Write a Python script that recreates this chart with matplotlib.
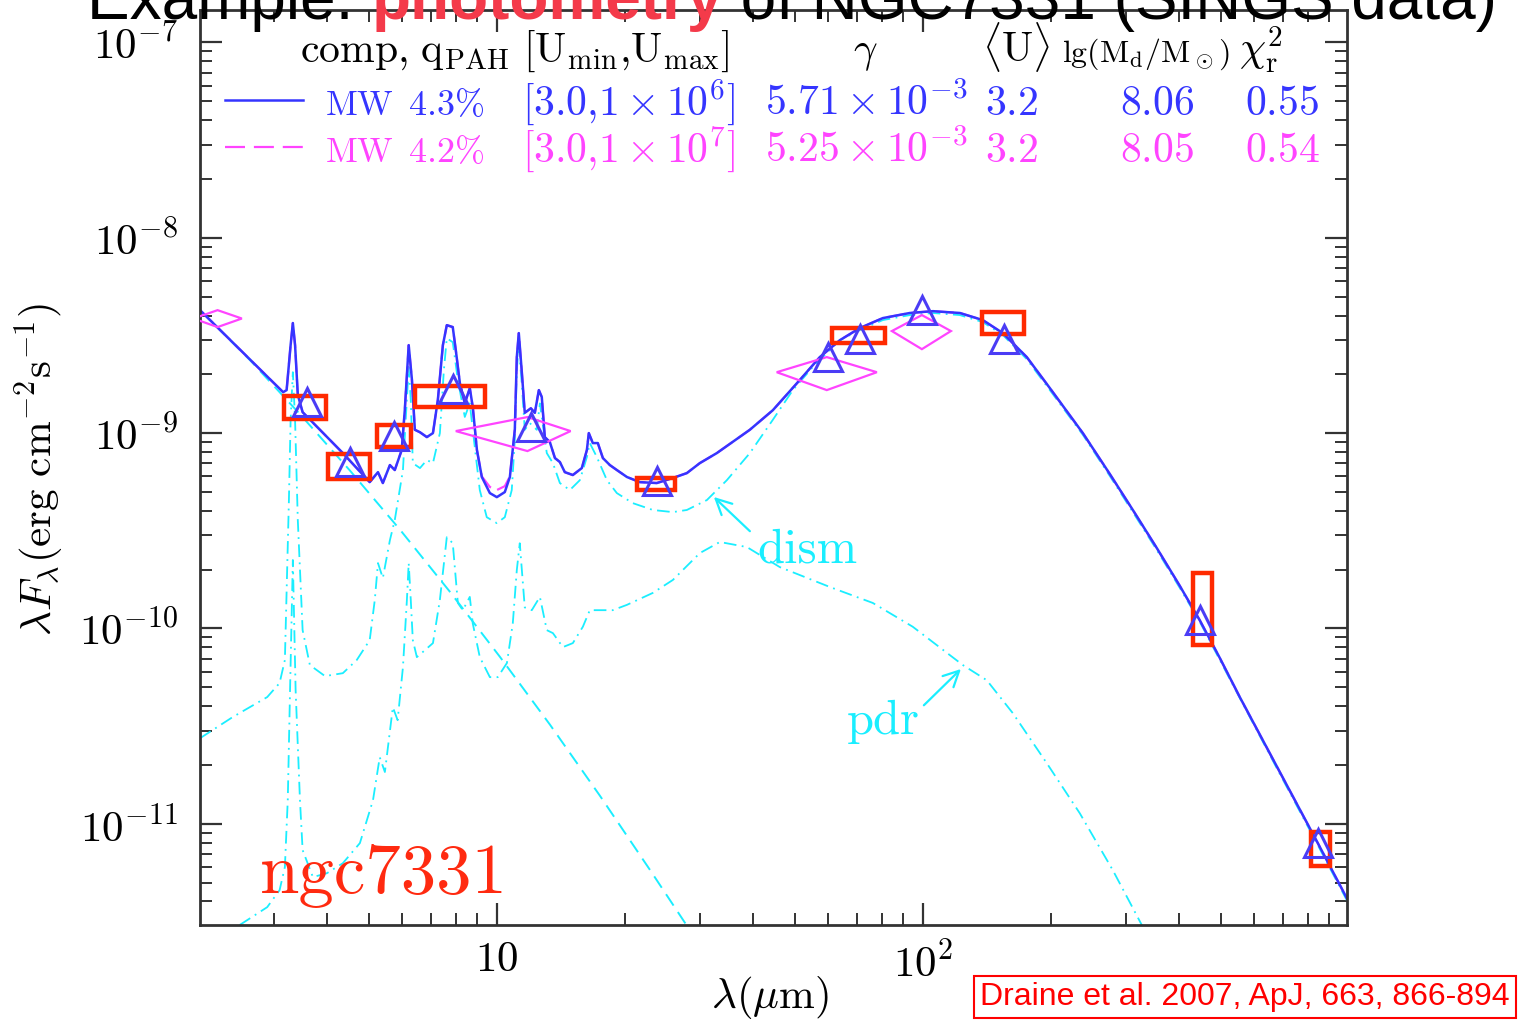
import matplotlib
matplotlib.use('Agg')
import matplotlib.pyplot as plt
import numpy as np
from matplotlib.patches import Rectangle, Polygon
from matplotlib.ticker import NullFormatter

plt.rcParams['font.family'] = ['cmr10', 'DejaVu Serif']
plt.rcParams['mathtext.fontset'] = 'cm'
plt.rcParams['axes.unicode_minus'] = False

UNIT = 1e-9  # fluxes below are in units of 1e-9 erg cm^-2 s^-1

# total model, MW 4.3% (blue)
lam_model = [2.01, 3.15, 3.21, 3.28, 3.32, 3.36, 3.41, 3.50, 4.35, 5.03, 5.26, 5.40, 5.61, 5.76,
             5.98, 6.08, 6.21, 6.32, 6.42, 6.60, 6.85, 7.08, 7.27, 7.47, 7.63, 7.88, 8.01, 8.19,
             8.41, 8.64, 8.78, 8.98, 9.22, 9.63, 10.0, 10.44, 10.73, 11.02, 11.14, 11.26, 11.45,
             11.63, 12.02, 12.28, 12.55, 12.75, 12.96, 13.32, 13.69, 14.06, 14.44, 15.08, 15.83,
             16.27, 16.44, 16.80, 17.26, 17.74, 18.42, 19.13, 20.20, 21.66, 23.74, 25.89, 27.93,
             29.96, 32.84, 39.26, 44.46, 51.43, 57.31, 63.86, 71.14, 80.56, 93.2, 105.6, 122.2,
             138.3, 154.1, 175.4, 198.7, 237.5, 274.8, 311.2, 354.2, 401.2, 446.9, 498.1, 554.8,
             688.7, 845.7, 989.2]
flux_model1 = [4.26, 1.62, 1.66, 2.82, 3.66, 2.82, 1.57, 1.28, 0.790, 0.561, 0.631, 0.555, 0.686,
               0.647, 0.819, 1.31, 2.82, 1.87, 1.04, 1.01, 0.954, 1.00, 1.48, 2.82, 3.57, 3.49,
               2.66, 1.80, 1.42, 1.70, 1.36, 0.819, 0.596, 0.493, 0.470, 0.499, 0.596, 1.04, 2.45,
               3.25, 2.03, 1.27, 1.34, 1.27, 1.66, 1.53, 0.954, 0.899, 0.745, 0.711, 0.631, 0.610,
               0.662, 0.819, 1.00, 0.889, 0.889, 0.745, 0.686, 0.647, 0.596, 0.561, 0.555, 0.589,
               0.624, 0.702, 0.790, 1.04, 1.31, 1.87, 2.45, 2.99, 3.45, 3.88, 4.12, 4.21, 4.12,
               3.79, 3.25, 2.45, 1.70, 1.00, 0.617, 0.404, 0.258, 0.165, 0.110, 0.0705, 0.0445,
               0.0184, 0.00796, 0.00416]
# total model, MW 4.2% (magenta dashed)
flux_model2 = [4.26, 1.62, 1.66, 2.82, 3.66, 2.82, 1.57, 1.28, 0.790, 0.561, 0.631, 0.555, 0.686,
               0.647, 0.819, 1.31, 2.82, 1.87, 1.04, 1.01, 0.954, 1.00, 1.48, 2.82, 3.57, 3.49,
               2.66, 1.80, 1.42, 1.70, 1.36, 0.819, 0.60, 0.530, 0.511, 0.535, 0.60, 1.04, 2.45,
               3.25, 2.03, 1.27, 1.34, 1.27, 1.66, 1.53, 0.954, 0.899, 0.745, 0.711, 0.631, 0.610,
               0.662, 0.819, 1.00, 0.889, 0.889, 0.745, 0.686, 0.647, 0.596, 0.561, 0.555, 0.589,
               0.624, 0.702, 0.790, 1.04, 1.31, 1.87, 2.45, 2.99, 3.45, 3.88, 4.12, 4.21, 4.12,
               3.79, 3.25, 2.45, 1.70, 1.00, 0.617, 0.404, 0.258, 0.165, 0.110, 0.0705, 0.0445,
               0.0184, 0.00796, 0.00416]

# starlight
lam_stars = [2.01, 2.63, 3.45, 4.52, 5.92, 7.76, 10.16, 13.32, 17.45, 22.86, 28.70]
flux_stars = [4.26, 2.37, 1.25, 0.643, 0.321, 0.154, 0.0717, 0.0322, 0.01393, 0.00582, 0.00275]

# diffuse ISM dust
lam_dism = [2.01, 2.40, 2.89, 3.09, 3.18, 3.25, 3.28, 3.32, 3.36, 3.41, 3.50, 3.64, 3.95, 4.35,
            4.69, 5.03, 5.17, 5.26, 5.40, 5.61, 5.76, 6.02, 6.11, 6.21, 6.28, 6.35, 6.60, 6.85,
            7.08, 7.35, 7.51, 7.63, 7.88, 8.10, 8.41, 8.64, 8.78, 9.12, 9.47, 10.0, 10.44, 10.84,
            11.02, 11.14, 11.26, 11.45, 11.63, 11.95, 12.41, 12.62, 13.10, 13.54, 14.06, 14.84,
            15.66, 16.27, 16.53, 17.17, 18.13, 19.13, 20.85, 23.24, 25.89, 27.93, 31.12, 34.67,
            39.26, 44.46, 49.53, 55.19, 59.51, 63.86, 71.14, 80.56, 93.2, 105.6, 122.2, 138.3,
            154.1, 175.4, 198.7, 237.5, 274.8, 311.2, 354.2, 401.2, 446.9, 554.8, 688.7, 845.7,
            989.2]
flux_dism = [0.0274, 0.0352, 0.0445, 0.0525, 0.0689, 0.454, 1.166, 2.05, 1.166, 0.359, 0.098,
             0.0649, 0.0570, 0.0590, 0.0689, 0.0871, 0.140, 0.216, 0.181, 0.283, 0.359, 0.647,
             1.166, 2.18, 1.48, 0.702, 0.662, 0.728, 0.702, 1.00, 2.10, 3.06, 2.92, 1.87, 1.21,
             1.42, 1.04, 0.511, 0.371, 0.346, 0.371, 0.511, 0.921, 2.10, 2.82, 1.76, 1.04, 1.125,
             1.04, 1.42, 0.790, 0.702, 0.555, 0.511, 0.574, 0.754, 0.889, 0.754, 0.574, 0.493,
             0.438, 0.404, 0.394, 0.404, 0.454, 0.574, 0.790, 1.17, 1.66, 2.18, 2.57, 2.99, 3.37,
             3.79, 4.02, 4.12, 4.02, 3.70, 3.18, 2.39, 1.66, 0.98, 0.603, 0.394, 0.252, 0.161,
             0.108, 0.0440, 0.0180, 0.00777, 0.00406]

# PDR dust
lam_pdr = [2.49, 2.89, 3.09, 3.18, 3.23, 3.27, 3.32, 3.37, 3.45, 3.50, 3.70, 3.99, 4.35, 4.77,
           5.12, 5.31, 5.46, 5.70, 5.85, 6.02, 6.15, 6.21, 6.28, 6.35, 6.49, 6.78, 7.08, 7.35,
           7.63, 7.88, 8.10, 8.32, 8.64, 8.78, 9.12, 9.63, 10.05, 10.56, 10.90, 11.14, 11.32,
           11.63, 12.08, 12.62, 13.10, 13.54, 14.29, 15.08, 15.92, 16.53, 17.45, 18.72, 20.20,
           23.24, 25.89, 29.96, 33.38, 38.63, 46.17, 60.49, 76.32, 94.7, 124.2, 141.3, 162.7,
           195.5, 233.7, 279.3, 328.5]
flux_pdr = [0.00303, 0.00374, 0.00457, 0.00600, 0.0132, 0.0483, 0.224, 0.0483, 0.0132, 0.00733,
            0.00533, 0.00558, 0.00628, 0.00796, 0.0132, 0.0219, 0.0184, 0.0395, 0.0339, 0.0634,
            0.140, 0.216, 0.140, 0.0871, 0.0713, 0.0774, 0.0841, 0.140, 0.293, 0.273, 0.135,
            0.124, 0.145, 0.106, 0.0713, 0.0563, 0.0563, 0.0665, 0.106, 0.199, 0.273, 0.128,
            0.124, 0.145, 0.098, 0.0946, 0.0802, 0.0841, 0.102, 0.124, 0.124, 0.124, 0.132,
            0.152, 0.177, 0.243, 0.277, 0.261, 0.206, 0.163, 0.135, 0.102, 0.0649, 0.0543,
            0.0368, 0.0204, 0.0113, 0.00578, 0.00296]

# observed photometry (band width x flux range)
band_lo = [3.16, 4.01, 5.23, 6.42, 21.3, 61.2, 137.6, 430, 814]
band_hi = [3.97, 5.03, 6.28, 9.37, 26.2, 81.4, 172.7, 477, 902]
obs_lo = [1.18, 0.581, 0.848, 1.358, 0.510, 2.89, 3.21, 0.0821, 0.00607]
obs_hi = [1.545, 0.781, 1.099, 1.74, 0.588, 3.45, 4.165, 0.192, 0.00906]

# band-averaged model
lam_band = [3.58, 4.52, 5.73, 7.88, 12.02, 23.74, 59.8, 71.1, 99.5, 155, 447, 846]
flux_band = [1.45, 0.715, 0.971, 1.69, 1.073, 0.568, 2.46, 3.05, 4.26, 3.05, 0.110, 0.00795]

# 2MASS / IRAS points
dia_lam = [2.21, 11.8, 59.5, 99.5]
dia_lam_lo = [1.94, 8.01, 45.4, 84.6]
dia_lam_hi = [2.52, 14.9, 78.0, 116.4]
dia_f = [3.86, 1.024, 2.05, 3.33]
dia_f_lo = [3.49, 0.809, 1.66, 2.69]
dia_f_hi = [4.26, 1.208, 2.45, 4.02]

BLUE = '#3535ff'
MAG = '#ff44ff'
CYAN = '#1aeeff'
RED = '#ff2a00'
TRI = '#4b3cf5'

fig = plt.figure(figsize=(15.28, 10.21), dpi=100)
ax = fig.add_axes([0.1309, 0.0940, 0.7506, 0.8962])
ax.set_xscale('log')
ax.set_yscale('log')

dashdot = (0, (7, 3, 1, 3))
ax.plot(lam_stars, np.array(flux_stars) * UNIT, color=CYAN, lw=1.4, ls=(0, (7, 4)))
ax.plot(lam_dism, np.array(flux_dism) * UNIT, color=CYAN, lw=1.3, ls=dashdot)
ax.plot(lam_pdr, np.array(flux_pdr) * UNIT, color=CYAN, lw=1.3, ls=dashdot)
ax.plot(lam_model, np.array(flux_model2) * UNIT, color=MAG, lw=1.6, ls=(0, (8, 3)))
ax.plot(lam_model, np.array(flux_model1) * UNIT, color=BLUE, lw=1.8)

for lo, hi, flo, fhi in zip(band_lo, band_hi, obs_lo, obs_hi):
    ax.add_patch(Rectangle((lo, flo * UNIT), hi - lo, (fhi - flo) * UNIT,
                           fill=False, ec=RED, lw=3.2, zorder=5))

for c, lo, hi, f, flo, fhi in zip(dia_lam, dia_lam_lo, dia_lam_hi, dia_f, dia_f_lo, dia_f_hi):
    ax.add_patch(Polygon([(lo, f * UNIT), (c, fhi * UNIT), (hi, f * UNIT), (c, flo * UNIT)],
                         closed=True, fill=False, ec=MAG, lw=1.6, zorder=6))

ax.plot(lam_band, np.array(flux_band) * UNIT, ls='none', marker='^', ms=20,
        mfc='none', mec=TRI, mew=2.2, zorder=7)

ax.set_xlim(2.01, 990)
ax.set_ylim(3.03e-12, 1.466e-7)

ax.set_xticks([10, 100])
ax.set_xticklabels([r'$10$', r'$10^2$'])
ax.set_yticks([1e-11, 1e-10, 1e-9, 1e-8, 1e-7])
ax.set_yticklabels([r'$10^{-11}$', r'$10^{-10}$', r'$10^{-9}$', r'$10^{-8}$', r'$10^{-7}$'])
ax.xaxis.set_minor_formatter(NullFormatter())
ax.yaxis.set_minor_formatter(NullFormatter())
ax.tick_params(which='both', direction='in', top=True, right=True, color='#333333')
ax.tick_params(which='major', length=16, width=1.6, labelsize=31)
ax.tick_params(axis='x', which='major', pad=12)
ax.tick_params(axis='y', which='major', pad=16)
ax.tick_params(which='minor', length=8.5, width=1.4)
for sp in ax.spines.values():
    sp.set_linewidth(2)
    sp.set_color('#333333')

# legend block
ax.plot([0.0218, 0.0898], [0.9016, 0.9016], transform=ax.transAxes, color=BLUE, lw=1.8)
ax.plot([0.0218, 0.0898], [0.8503, 0.8503], transform=ax.transAxes, color=MAG, lw=1.6,
        ls=(0, (9, 4)))
fs = 30
hy = 0.9432
ax.text(0.0872, hy, r'$\mathrm{comp{,}\ q_{PAH}\ [U_{min}{,}U_{max}]}$', transform=ax.transAxes,
        fontsize=fs, va='baseline', ha='left')
ax.text(0.580, hy, r'$\gamma$', transform=ax.transAxes, fontsize=fs, va='baseline', ha='center')
ax.text(0.682, hy, r'$\langle\mathrm{U}\rangle$', transform=ax.transAxes, fontsize=fs,
        va='baseline', ha='left')
ax.text(0.7515, hy, r'$\mathrm{lg(M_d/M_\odot)}$', transform=ax.transAxes, fontsize=23,
        va='baseline', ha='left')
ax.text(0.906, hy, r'$\chi^2_\mathrm{r}$', transform=ax.transAxes, fontsize=fs,
        va='baseline', ha='left')

row_x = [0.109, 0.1813, 0.2807, 0.4926, 0.6844, 0.8021, 0.9111]
row_fs = [25, 26, 30, 30, 30, 30, 30]
row1 = [r'$\mathrm{MW}$', r'$4.3\%$', r'$[3.0{,}1\times10^6]$', r'$5.71\times10^{-3}$',
        r'$3.2$', r'$8.06$', r'$0.55$']
row2 = [r'$\mathrm{MW}$', r'$4.2\%$', r'$[3.0{,}1\times10^7]$', r'$5.25\times10^{-3}$',
        r'$3.2$', r'$8.05$', r'$0.54$']
for x, f, s1, s2 in zip(row_x, row_fs, row1, row2):
    ax.text(x, 0.8852, s1, transform=ax.transAxes, fontsize=f, color=BLUE, va='baseline')
    ax.text(x, 0.8339, s2, transform=ax.transAxes, fontsize=f, color=MAG, va='baseline')

# annotations
ax.text(53.7e0, 0.252 * UNIT, 'dism', color=CYAN, fontsize=35, ha='center', va='center')
ax.annotate('', xy=(31.97, 0.4815 * UNIT), xytext=(39.7, 0.3076 * UNIT),
            arrowprops=dict(arrowstyle='->', color=CYAN, lw=1.6, mutation_scale=28))
ax.text(80.6, 0.0331 * UNIT, 'pdr', color=CYAN, fontsize=35, ha='center', va='center')
ax.annotate('', xy=(124.2, 0.0634 * UNIT), xytext=(99.5, 0.0395 * UNIT),
            arrowprops=dict(arrowstyle='->', color=CYAN, lw=1.6, mutation_scale=28))
ax.text(0.052, 0.035, 'ngc7331', transform=ax.transAxes, color='#ff2a10', fontsize=51,
        va='baseline', ha='left')

# axis labels
fig.text(0.504, 0.0235, r'$\lambda(\mu\mathrm{m})$', fontsize=31, ha='center', va='center')
fig.text(0.026, 0.5397, r'$\lambda F_\lambda(\mathrm{erg\ cm^{-2}s^{-1}})$', fontsize=31,
         ha='center', va='center', rotation=90)

# slide title, cut off at the top
renderer = fig.canvas.get_renderer()
tx = 0.0570
ty = 0.9814
for s, col, wt in [('Example: ', 'black', 'normal'), ('photometry', '#f43a4a', 'bold'),
                   (' of NGC7331 (SINGS data)', 'black', 'normal')]:
    t = fig.text(tx, ty, s, fontsize=46, color=col, weight=wt, family='Liberation Sans',
                 va='baseline', ha='left')
    bb = t.get_window_extent(renderer)
    tx += bb.width / fig.bbox.width

fig.text(0.6413, 0.0235, 'Draine et al. 2007, ApJ, 663, 866-894', fontsize=23, color='red',
         family='Liberation Sans', ha='left', va='center',
         bbox=dict(boxstyle='square,pad=0.2', fc='white', ec='red', lw=1.5))

fig.savefig('out.png', dpi=100)
